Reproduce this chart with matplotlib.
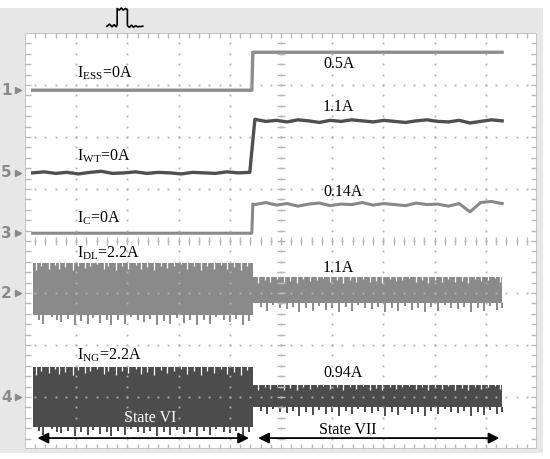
import numpy as np
import matplotlib.pyplot as plt
from matplotlib.patches import Rectangle
from itertools import cycle

plt.rcParams['font.family'] = ['Liberation Serif', 'DejaVu Serif']
plt.rcParams['mathtext.fontset'] = 'custom'
plt.rcParams['mathtext.rm'] = 'Liberation Serif'
plt.rcParams['mathtext.it'] = 'Liberation Serif:italic'

# scope screen is 10 x 8 divisions, everything below is in divisions
t_on, t_step, t_off = 0.15, 4.43, 9.32

# channel numbers and their ground markers on the left
ch_names = ['1', '5', '3', '2', '4']
ch_offset = [6.90, 5.31, 4.15, 3.00, 1.00]

# dc channels: level before / after the step
ess_lvl = [6.90, 7.63]
wt_lvl = [5.31, 6.31]
c_lvl = [4.15, 4.71]

# ripple
wt_before = [5.31, 5.33, 5.30, 5.32, 5.29, 5.32, 5.34, 5.30, 5.31, 5.33,
             5.30, 5.32, 5.31, 5.29, 5.32, 5.31, 5.30, 5.33, 5.31, 5.32]
wt_after = [6.34, 6.30, 6.32, 6.29, 6.33, 6.31, 6.28, 6.32, 6.30, 6.33, 6.31, 6.29,
            6.32, 6.30, 6.28, 6.31, 6.33, 6.30, 6.29, 6.32, 6.27, 6.30, 6.33, 6.31]
c_after = [4.70, 4.74, 4.69, 4.72, 4.67, 4.71, 4.73, 4.68, 4.71, 4.70, 4.74, 4.69,
           4.72, 4.70, 4.68, 4.73, 4.70, 4.71, 4.67, 4.72, 4.56, 4.74, 4.76, 4.72]

# ac channels, before / after: (peak top, core top, core bottom, peak bottom)
dl_env = [(3.58, 3.44, 2.58, 2.38), (3.31, 3.19, 2.81, 2.63)]
ng_env = [(1.58, 1.42, 0.42, 0.25), (1.24, 1.13, 0.80, 0.64)]

edge_x_before = [0.22, 0.31, 0.47, 0.58, 0.66, 0.79, 0.93, 1.04, 1.18, 1.27, 1.41, 1.55,
                 1.63, 1.77, 1.90, 2.02, 2.16, 2.27, 2.39, 2.52, 2.66, 2.78, 2.91, 3.05,
                 3.17, 3.30, 3.44, 3.56, 3.69, 3.83, 3.95, 4.08, 4.21, 4.33]
edge_x_after = [4.55, 4.68, 4.79, 4.93, 5.06, 5.18, 5.31, 5.43, 5.57, 5.70, 5.82, 5.95,
                6.09, 6.21, 6.34, 6.46, 6.60, 6.73, 6.85, 6.98, 7.12, 7.24, 7.37, 7.50,
                7.63, 7.76, 7.88, 8.01, 8.15, 8.27, 8.40, 8.53, 8.66, 8.79, 8.91, 9.04,
                9.17, 9.27]
edge_frac = [1.0, 0.5, 0.8, 0.3, 0.9, 0.6, 1.0, 0.4, 0.7, 0.5, 0.2, 0.85, 0.45]

labels_left = [r'I$_{\mathrm{ESS}}$=0A', r'I$_{\mathrm{WT}}$=0A', r'I$_{\mathrm{C}}$=0A',
               r'I$_{\mathrm{DL}}$=2.2A', r'I$_{\mathrm{NG}}$=2.2A']
labels_left_y = [7.23, 5.62, 4.44, 3.77, 1.81]
labels_right = ['0.5A', '1.1A', '0.14A', '1.1A', '0.94A']
labels_right_y = [7.40, 6.58, 4.94, 3.48, 1.46]

# trigger icon at top of screen
trig_x = [1.60, 1.65, 1.70, 1.74, 1.78, 1.80, 1.80, 1.84, 1.88, 1.92, 1.96, 2.00, 2.00,
          2.04, 2.08, 2.12, 2.16, 2.20, 2.30]
trig_y = [8.13, 8.17, 8.12, 8.16, 8.12, 8.16, 8.47, 8.44, 8.48, 8.44, 8.47, 8.45, 8.14,
          8.11, 8.15, 8.11, 8.14, 8.12, 8.13]

fig = plt.figure(figsize=(5.5, 4.59), dpi=100)
fig.patches.append(Rectangle((0, 6/459), 543/550, 445/459, transform=fig.transFigure,
                             facecolor='#e7e7e7', edgecolor='none', zorder=-5))
ax = fig.add_axes([25/550, 10/459, 512/550, 416/459])
ax.set_xlim(0, 10)
ax.set_ylim(0, 8)
ax.axis('off')
ax.add_patch(Rectangle((0, 0), 10, 8, facecolor='white', edgecolor='#c4c4c4', lw=1.5, zorder=0))

# grid dots and ticks
fine = np.arange(0.2, 10, 0.2)
fine_y = np.arange(0.2, 8, 0.2)
for i in range(1, 10):
    ax.plot(np.full(len(fine_y), i), fine_y, ls='none', marker='s', ms=1.3, color='#b0b0b0', mec='none', zorder=5)
for j in range(1, 8):
    ax.plot(fine, np.full(len(fine), j), ls='none', marker='s', ms=1.3, color='#b0b0b0', mec='none', zorder=5)
ax.vlines(fine, 0, 0.09, color='#b8b8b8', lw=1, zorder=1)
ax.vlines(fine, 7.91, 8, color='#b8b8b8', lw=1, zorder=1)
ax.vlines(fine, 3.93, 4.07, color='#b8b8b8', lw=1, zorder=5)
ax.hlines(fine_y, 0, 0.12, color='#b8b8b8', lw=1, zorder=1)
ax.hlines(fine_y, 9.88, 10, color='#b8b8b8', lw=1, zorder=1)
ax.hlines(fine_y, 4.93, 5.07, color='#b8b8b8', lw=1, zorder=5)

# dc traces
ax.plot([t_on, t_step, t_step + 0.02, t_off], [ess_lvl[0], ess_lvl[0], ess_lvl[1], ess_lvl[1]],
        color='#8c8c8c', lw=2.4, zorder=3)
ax.plot(list(np.linspace(t_on, t_step - 0.04, len(wt_before))) + list(np.linspace(t_step + 0.06, t_off, len(wt_after))),
        wt_before + wt_after, color='#4f4f4f', lw=2.4, zorder=3)
ax.plot([t_on, t_step, t_step + 0.02] + list(np.linspace(t_step + 0.06, t_off, len(c_after))),
        [c_lvl[0], c_lvl[0], c_lvl[1]] + c_after, color='#888888', lw=2.2, zorder=3)


def band(env, color):
    spans = [(t_on, t_step + 0.02, edge_x_before), (t_step + 0.02, t_off, edge_x_after)]
    for (x0, x1, ex), (pt, ct, cb, pb) in zip(spans, env):
        ax.fill_between([x0, x1], cb, pt, color=color, lw=0, zorder=2)
        # white gaps cut into the top edge
        for x, f in zip(ex, cycle(edge_frac)):
            ax.vlines(x, pt - f * (pt - ct), pt + 0.01, color='white', lw=0.9, zorder=2.1)
        # spikes hanging off the bottom edge
        for x, f in zip(ex, cycle(edge_frac[::-1])):
            ax.vlines(x + 0.05, pb + (1 - f) * (cb - pb), cb, color=color, lw=1.4, zorder=2)


band(dl_env, '#8a8a8a')
band(ng_env, '#4c4c4c')

# channel markers
for name, y in zip(ch_names, ch_offset):
    ax.text(-0.36, y, name, ha='center', va='center', fontsize=11, color='#8a8a8a',
            family='DejaVu Sans', fontweight='bold', clip_on=False)
    ax.plot(-0.14, y, marker='>', ms=5, color='#8a8a8a', clip_on=False)

ax.plot(trig_x, trig_y, color='black', lw=1.2, clip_on=False)

for s, y in zip(labels_left, labels_left_y):
    ax.text(1.02, y, s, ha='left', va='center', fontsize=11.5, zorder=6)
for s, y in zip(labels_right, labels_right_y):
    ax.text(5.82, y, s, ha='left', va='center', fontsize=11.5, zorder=6)

# state arrows
ax.annotate('', xy=(0.19, 0.21), xytext=(4.43, 0.21),
            arrowprops=dict(arrowstyle='<|-|>', color='black', lw=1.3, mutation_scale=16), zorder=7)
ax.annotate('', xy=(4.5, 0.21), xytext=(9.32, 0.21),
            arrowprops=dict(arrowstyle='<|-|>', color='black', lw=1.3, mutation_scale=16), zorder=7)
ax.text(2.44, 0.6, 'State VI', ha='center', va='center', fontsize=11.5, color='white', zorder=7)
ax.text(6.3, 0.37, 'State VII', ha='center', va='center', fontsize=11.5, color='black', zorder=7)

fig.savefig('out.png', dpi=100)
